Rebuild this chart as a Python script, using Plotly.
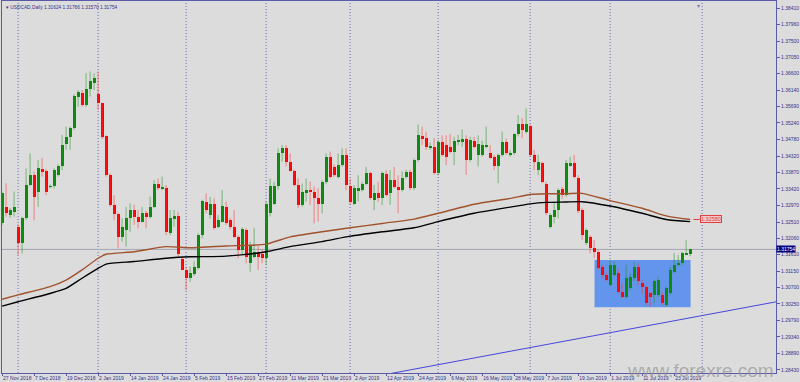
import plotly.graph_objects as go

# ---------------- data ----------------
opens = [1.3247,1.3293,1.3270,1.3279,1.3238,1.3194,1.3261,1.3353,1.3381,1.3335,
         1.3397,1.3392,1.3348,1.3350,1.3381,1.3405,1.3466,1.3486,1.3509,1.3597,
         1.3608,1.3574,1.3617,1.3635,1.3603,1.3578,1.3488,1.3381,1.3298,1.3273,
         1.3209,1.3229,1.3261,1.3284,1.3266,1.3252,1.3277,1.3266,1.3293,1.3356,
         1.3344,1.3346,1.3220,1.3258,1.3268,1.3148,1.3120,1.3096,1.3109,1.3125,
         1.3215,1.3307,1.3270,1.3302,1.3238,1.3252,1.3291,1.3257,1.3236,1.3210,
         1.3174,1.3229,1.3137,1.3155,1.3169,1.3164,1.3151,1.3275,1.3302,1.3349,
         1.3440,1.3454,1.3417,1.3391,1.3353,1.3298,1.3330,1.3339,1.3333,1.3316,
         1.3302,1.3360,1.3431,1.3403,1.3376,1.3408,1.3436,1.3349,1.3302,1.3339,
         1.3339,1.3357,1.3385,1.3312,1.3330,1.3316,1.3383,1.3330,1.3366,1.3348,
         1.3339,1.3376,1.3390,1.3344,1.3422,1.3487,1.3482,1.3456,1.3459,1.3385,
         1.3472,1.3463,1.3459,1.3445,1.3472,1.3474,1.3481,1.3422,1.3474,1.3435,
         1.3436,1.3459,1.3440,1.3431,1.3406,1.3436,1.3472,1.3436,1.3440,1.3493,
         1.3520,1.3498,1.3517,1.3436,1.3394,1.3413,1.3357,1.3238,1.3266,1.3284,
         1.3343,1.3325,1.3406,1.3413,1.3372,1.3284,1.3192,1.3211,1.3178,1.3169,
         1.3128,1.3105,1.3077,1.3105,1.3110,1.3059,1.3045,1.3068,1.3096,1.3128,
         1.3082,1.3073,1.3054,1.3050,1.3050,1.3050,1.3022,1.3054,1.3114,1.3133,
         1.3137,1.3162,1.31624]
highs = [1.3335,1.3358,1.3290,1.3335,1.3245,1.3265,1.3399,1.3440,1.3390,1.3422,
         1.3427,1.3397,1.3355,1.3399,1.3410,1.3491,1.3514,1.3514,1.3603,1.3615,
         1.3615,1.3661,1.3666,1.3661,1.3666,1.3580,1.3490,1.3385,1.3325,1.3277,
         1.3261,1.3293,1.3302,1.3298,1.3284,1.3293,1.3282,1.3321,1.3367,1.3371,
         1.3376,1.3353,1.3284,1.3284,1.3279,1.3155,1.3128,1.3128,1.3142,1.3220,
         1.3312,1.3330,1.3320,1.3316,1.3270,1.3339,1.3307,1.3262,1.3284,1.3215,
         1.3236,1.3234,1.3197,1.3234,1.3188,1.3174,1.3307,1.3371,1.3362,1.3454,
         1.3463,1.3463,1.3440,1.3395,1.3371,1.3357,1.3371,1.3362,1.3349,1.3344,
         1.3366,1.3440,1.3445,1.3410,1.3440,1.3454,1.3454,1.3371,1.3353,1.3380,
         1.3362,1.3403,1.3390,1.3353,1.3362,1.3390,1.3394,1.3394,1.3403,1.3380,
         1.3390,1.3395,1.3395,1.3426,1.3520,1.3514,1.3500,1.3470,1.3482,1.3477,
         1.3490,1.3490,1.3493,1.3486,1.3491,1.3506,1.3490,1.3486,1.3486,1.3490,
         1.3475,1.3514,1.3463,1.3436,1.3440,1.3500,1.3481,1.3449,1.3495,1.3546,
         1.3537,1.3564,1.3520,1.3450,1.3436,1.3417,1.3362,1.3275,1.3307,1.3344,
         1.3348,1.3422,1.3431,1.3436,1.3380,1.3290,1.3233,1.3215,1.3201,1.3174,
         1.3133,1.3114,1.3146,1.3142,1.3123,1.3082,1.3133,1.3110,1.3142,1.3137,
         1.3091,1.3077,1.3059,1.3091,1.3100,1.3059,1.3073,1.3128,1.3165,1.3160,
         1.3169,1.3201,1.31766]
lows = [1.3243,1.3266,1.3262,1.3266,1.3160,1.3164,1.3256,1.3350,1.3256,1.3293,
        1.3376,1.3325,1.3344,1.3344,1.3376,1.3394,1.3450,1.3450,1.3505,1.3569,
        1.3569,1.3569,1.3597,1.3615,1.3560,1.3480,1.3376,1.3293,1.3256,1.3178,
        1.3197,1.3183,1.3224,1.3243,1.3234,1.3250,1.3234,1.3261,1.3289,1.3339,
        1.3339,1.3215,1.3215,1.3238,1.3155,1.3119,1.3063,1.3086,1.3102,1.3120,
        1.3206,1.3275,1.3260,1.3230,1.3234,1.3250,1.3243,1.3230,1.3206,1.3151,
        1.3160,1.3137,1.3114,1.3151,1.3119,1.3137,1.3132,1.3266,1.3298,1.3340,
        1.3417,1.3404,1.3390,1.3349,1.3289,1.3293,1.3307,1.3298,1.3247,1.3252,
        1.3275,1.3355,1.3371,1.3375,1.3371,1.3403,1.3339,1.3298,1.3298,1.3307,
        1.3335,1.3353,1.3312,1.3284,1.3307,1.3298,1.3321,1.3298,1.3344,1.3275,
        1.3335,1.3371,1.3339,1.3339,1.3417,1.3463,1.3450,1.3450,1.3381,1.3380,
        1.3431,1.3408,1.3440,1.3408,1.3463,1.3459,1.3381,1.3417,1.3454,1.3404,
        1.3431,1.3454,1.3426,1.3394,1.3358,1.3431,1.3436,1.3431,1.3436,1.3487,
        1.3482,1.3495,1.3431,1.3394,1.3380,1.3358,1.3270,1.3234,1.3247,1.3261,
        1.3315,1.3320,1.3404,1.3371,1.3275,1.3201,1.3187,1.3165,1.3151,1.3119,
        1.3096,1.3087,1.3073,1.3100,1.3054,1.3040,1.3040,1.3063,1.3087,1.3077,
        1.3054,1.3022,1.3018,1.3027,1.3045,1.3022,1.3018,1.3050,1.3110,1.3128,
        1.3133,1.3160,1.31570]
closes = [1.3330,1.3275,1.3284,1.3293,1.3194,1.3261,1.3353,1.3381,1.3321,1.3399,
          1.3390,1.3335,1.3350,1.3394,1.3405,1.3463,1.3486,1.3509,1.3598,1.3610,
          1.3574,1.3617,1.3641,1.3647,1.3578,1.3486,1.3381,1.3298,1.3273,1.3209,
          1.3238,1.3261,1.3284,1.3266,1.3252,1.3277,1.3266,1.3293,1.3356,1.3344,
          1.3348,1.3224,1.3261,1.3268,1.3164,1.3120,1.3096,1.3111,1.3128,1.3215,
          1.3309,1.3284,1.3302,1.3234,1.3257,1.3295,1.3247,1.3236,1.3210,1.3174,
          1.3231,1.3155,1.3188,1.3169,1.3155,1.3151,1.3302,1.3349,1.3349,1.3440,
          1.3454,1.3417,1.3391,1.3353,1.3298,1.3335,1.3339,1.3335,1.3316,1.3302,
          1.3360,1.3431,1.3376,1.3380,1.3408,1.3436,1.3353,1.3307,1.3344,1.3344,
          1.3357,1.3385,1.3316,1.3330,1.3316,1.3385,1.3325,1.3366,1.3348,1.3339,
          1.3371,1.3390,1.3344,1.3422,1.3491,1.3482,1.3459,1.3459,1.3385,1.3472,
          1.3436,1.3431,1.3445,1.3474,1.3477,1.3479,1.3422,1.3477,1.3459,1.3467,
          1.3463,1.3463,1.3428,1.3406,1.3436,1.3472,1.3440,1.3442,1.3493,1.3520,
          1.3505,1.3520,1.3436,1.3417,1.3417,1.3362,1.3275,1.3270,1.3284,1.3339,
          1.3325,1.3413,1.3413,1.3376,1.3280,1.3215,1.3229,1.3178,1.3169,1.3123,
          1.3105,1.3091,1.3133,1.3133,1.3059,1.3045,1.3096,1.3100,1.3128,1.3087,
          1.3073,1.3027,1.3045,1.3087,1.3091,1.3027,1.3068,1.3119,1.3133,1.3137,
          1.3165,1.3165,1.31754]
bars = list(range(len(opens)))

date_tick_bars = [0, 8, 16, 24, 32, 40, 48, 56, 64, 72, 80, 88, 96, 104, 112,
                  120, 128, 136, 144, 152, 160, 168]
date_tick_labels = ["27 Nov 2018", "7 Dec 2018", "19 Dec 2018", "2 Jan 2019",
                    "14 Jan 2019", "24 Jan 2019", "5 Feb 2019", "15 Feb 2019",
                    "27 Feb 2019", "11 Mar 2019", "21 Mar 2019", "2 Apr 2019",
                    "12 Apr 2019", "24 Apr 2019", "6 May 2019", "16 May 2019",
                    "28 May 2019", "7 Jun 2019", "19 Jun 2019", "1 Jul 2019",
                    "11 Jul 2019", "23 Jul 2019"]
month_start_bars = [4, 24, 46, 66, 87, 109, 132, 152, 175]

price_ticks = [1.38410, 1.37960, 1.37500, 1.37050, 1.36600, 1.36140, 1.35690,
               1.35240, 1.34780, 1.34320, 1.33870, 1.33420, 1.32970, 1.32510,
               1.32060, 1.31610, 1.31150, 1.30700, 1.30250, 1.29790, 1.29340,
               1.28890, 1.28430]

ma_bars = [0, 4, 12, 16, 20, 24, 26, 33, 41, 47, 56, 66, 72, 80, 87, 95, 103,
           109, 118, 127, 132, 136, 141, 145, 152, 160, 166, 172]
ma_brown = [1.3038, 1.3050, 1.3073, 1.3091, 1.3119, 1.3151, 1.3162, 1.3169,
            1.3183, 1.3180, 1.3185, 1.3190, 1.3210, 1.3224, 1.3235, 1.3247,
            1.3259, 1.3275, 1.3300, 1.3316, 1.3327, 1.3329, 1.3329, 1.3330,
            1.3310, 1.3289, 1.3268, 1.3258]
ma_black = [1.3019, 1.3031, 1.3054, 1.3068, 1.3096, 1.3123, 1.3135, 1.3142,
            1.3151, 1.3155, 1.3157, 1.3169, 1.3183, 1.3197, 1.3212, 1.3224,
            1.3235, 1.3252, 1.3275, 1.3292, 1.3301, 1.3305, 1.3306, 1.3307,
            1.3295, 1.3275, 1.3258, 1.3252]

trend_bars = [97, 194]
trend_prices = [1.2833, 1.3032]

zone_bars = [148.1, 172.1]
zone_prices = [1.3016, 1.3146]

shift_marker_bar = 174.1
symbol_title = "USDCAD,Daily"

# ---------------- styling ----------------
BG = "#DCDCDC"
AXIS = "#5A5AA8"
TXT = "#32328C"
UP = "#0E8A0E"
DN = "#FF0000"
FONT = "Liberation Sans, Arial, sans-serif"

fig = go.Figure()

# wicks
for want_up, col in ((True, "rgba(20,140,20,0.5)"), (False, "rgba(255,40,40,0.5)")):
    wx, wy = [], []
    for i in bars:
        if (closes[i] >= opens[i]) == want_up:
            wx += [i, i, None]
            wy += [lows[i], highs[i], None]
    fig.add_trace(go.Scatter(x=wx, y=wy, mode="lines",
                             line=dict(color=col, width=1),
                             hoverinfo="skip", showlegend=False))

# bodies
for want_up, col in ((True, UP), (False, DN)):
    bx = [i for i in bars if (closes[i] >= opens[i]) == want_up]
    fig.add_trace(go.Bar(
        x=bx,
        base=[min(opens[i], closes[i]) for i in bx],
        y=[abs(closes[i] - opens[i]) for i in bx],
        width=0.75, marker=dict(color=col, line=dict(width=0)),
        showlegend=False, hoverinfo="skip"))

# moving averages
fig.add_trace(go.Scatter(x=ma_bars, y=ma_brown, mode="lines",
                         line=dict(color="#A0522D", width=1.4, shape="spline", smoothing=0.6),
                         showlegend=False, hoverinfo="skip"))
fig.add_trace(go.Scatter(x=ma_bars, y=ma_black, mode="lines",
                         line=dict(color="#000000", width=1.4, shape="spline", smoothing=0.6),
                         showlegend=False, hoverinfo="skip"))

# trend line
fig.add_trace(go.Scatter(x=trend_bars, y=trend_prices, mode="lines",
                         line=dict(color="#4646DC", width=1),
                         showlegend=False, hoverinfo="skip"))

# MA end label connector
fig.add_trace(go.Scatter(x=[ma_bars[-1] + 0.8, ma_bars[-1] + 2.4],
                         y=[ma_brown[-1], ma_brown[-1]], mode="lines",
                         line=dict(color="#E04040", width=1),
                         showlegend=False, hoverinfo="skip"))

shapes = []
# zone rectangle
shapes.append(dict(type="rect", xref="x", yref="y", layer="below",
                   x0=zone_bars[0], x1=zone_bars[1],
                   y0=zone_prices[0], y1=zone_prices[1],
                   fillcolor="#6495ED", line=dict(width=0)))
# month separators
for b in month_start_bars:
    shapes.append(dict(type="line", xref="x", yref="paper", layer="below",
                       x0=b, x1=b, y0=0, y1=1,
                       line=dict(color="#6A6AB8", width=1, dash="1px,2px")))
# current price line
shapes.append(dict(type="line", xref="paper", yref="y", layer="below",
                   x0=0, x1=1, y0=closes[-1], y1=closes[-1],
                   line=dict(color="#A2A6B4", width=1)))

annotations = [
    dict(xref="paper", yref="paper", x=0.002, y=0.995, xanchor="left",
         yanchor="top", showarrow=False,
         text="\u25BE %s %.5f %.5f %.5f %.5f" % (symbol_title, opens[-1],
                                               highs[-1], lows[-1], closes[-1]),
         font=dict(family=FONT, size=4.8, color=TXT)),
    dict(xref="paper", yref="y", x=1.0, y=closes[-1], xanchor="left",
         yanchor="middle", showarrow=False, text="%.5f" % closes[-1],
         bgcolor="#000080", borderpad=0,
         font=dict(family=FONT, size=5, color="#FFFFFF")),
    dict(xref="x", yref="y", x=ma_bars[-1] + 2.4, y=ma_brown[-1],
         xanchor="left", yanchor="middle", showarrow=False,
         text="%.5f" % ma_brown[-1], bordercolor="#E04040", borderwidth=1,
         borderpad=0, bgcolor="#F2C8C8",
         font=dict(family=FONT, size=5.5, color="#E04040")),
    dict(xref="paper", yref="paper", x=1.0, y=-0.027, xanchor="right",
         yanchor="bottom", showarrow=False, text="www.forexre.com",
         font=dict(family=FONT, size=19, color="rgba(150,150,150,0.7)")),
    dict(xref="x", yref="paper", x=shift_marker_bar, y=1.0, xanchor="center",
         yanchor="top", showarrow=False, text="\u25BE",
         font=dict(family=FONT, size=6, color="#7A7AB0")),
]

fig.update_layout(
    width=800, height=382,
    margin=dict(l=2, r=24, t=1, b=9, autoexpand=False),
    paper_bgcolor=BG, plot_bgcolor=BG,
    barmode="overlay", bargap=0,
    shapes=shapes, annotations=annotations,
    showlegend=False,
    xaxis=dict(range=[-0.02, 193.46], showgrid=False, zeroline=False,
               showline=True, linecolor=AXIS, linewidth=1, mirror=True,
               tickmode="array", tickvals=date_tick_bars,
               ticktext=date_tick_labels, ticks="outside", ticklen=2,
               tickcolor=AXIS, ticklabelposition="outside right",
               tickangle=0, automargin=False,
               tickfont=dict(family=FONT, size=5, color=TXT),
               fixedrange=True),
    yaxis=dict(range=[1.28347, 1.38603], side="right", showgrid=False,
               zeroline=False, showline=True, linecolor=AXIS, linewidth=1,
               mirror=True, tickmode="array", tickvals=price_ticks,
               ticktext=["%.5f" % v for v in price_ticks], ticks="outside",
               ticklen=3, tickcolor=AXIS, automargin=False,
               tickfont=dict(family=FONT, size=5, color=TXT),
               fixedrange=True),
)

fig.write_html("out.html", config={"displayModeBar": False},
               post_script="document.body.style.margin='0';"
                           "document.body.style.overflow='hidden';"
                           "document.body.style.background='%s';" % BG)
